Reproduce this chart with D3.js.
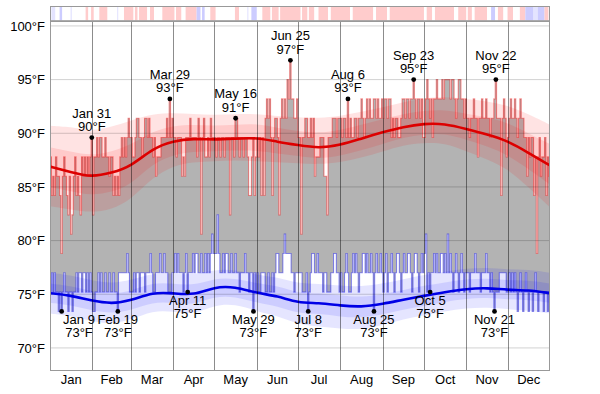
<!DOCTYPE html>
<html><head><meta charset="utf-8">
<script src="https://cdn.jsdelivr.net/npm/d3@7/dist/d3.min.js"></script>
<style>body{margin:0;background:#fff}svg{display:block}text{font-family:"Liberation Sans",Arial,Helvetica,sans-serif}</style>
</head><body><svg id="c" width="600" height="394"></svg>
<script>
const months = ["Jan","Feb","Mar","Apr","May","Jun","Jul","Aug","Sep","Oct","Nov","Dec"];
const monthDays = [31,28,31,30,31,30,31,31,30,31,30,31];
const yTicks = [70,75,80,85,90,95,100];

// daily high, °C
const highC = [
31,29,30,29,31,30,30,29,26,30,31,30,29,28,30,27,28,30,31,29,30,29,28,31,30,31,30,31,30,31,32,
28,31,31,32,31,32,32,31,31,32,31,31,30,31,31,29,30,29,30,29,31,32,31,32,31,32,33,32,
32,31,31,32,33,33,32,32,31,32,33,33,32,33,32,32,31,32,30,31,31,31,32,32,32,32,33,32,34,32,33,
32,32,31,32,32,32,30,31,30,32,32,32,33,32,32,32,32,31,33,32,27,32,33,31,31,32,31,33,32,32,
32,31,32,32,31,32,32,31,32,32,32,28,32,32,31,33,33,32,31,32,32,31,32,32,31,29,29,31,32,29,31,
32,31,32,29,32,29,33,34,33,34,32,29,32,33,33,32,28,33,34,33,34,33,35,34,36,34,34,33,33,34,
32,32,27,32,32,33,33,32,32,33,32,33,30,31,31,31,32,32,32,30,30,28,32,32,32,33,33,33,32,33,33,
33,32,33,33,32,34,32,33,32,32,33,33,32,33,33,34,33,32,33,34,33,34,33,33,34,34,33,34,33,33,34,
33,34,34,33,34,34,32,33,32,33,33,32,32,33,34,34,33,34,34,33,34,34,35,34,33,34,34,33,34,32,
32,34,35,34,33,34,32,34,34,35,34,34,34,35,34,35,35,35,35,34,35,35,34,33,34,35,35,34,34,33,34,
33,33,32,33,33,34,33,33,31,33,33,34,33,33,34,33,33,32,33,33,34,35,33,33,33,29,33,34,33,31,
32,33,34,33,33,34,33,32,33,34,33,33,32,32,30,32,31,32,32,29,31,26,31,32,30,31,31,32,29,31,30];

// daily low, °C
const lowC = [
24,25,24,25,24,24,23,24,23,24,25,24,24,23,24,24,23,24,24,25,24,25,25,24,25,25,24,25,24,25,24,
23,23,24,24,25,24,25,24,24,25,24,24,25,24,24,25,24,24,23,25,25,25,25,25,25,26,25,24,
24,24,25,24,25,25,24,25,25,25,24,25,25,25,26,25,24,24,25,25,25,26,25,25,26,25,25,24,24,24,25,
25,26,25,26,25,25,25,24,25,26,24,25,25,25,26,25,26,26,25,25,26,25,25,26,25,26,25,26,27,26,
26,26,28,26,25,25,26,25,26,26,25,25,26,25,25,26,25,25,24,25,25,25,26,25,25,24,25,25,23,25,24,
25,24,24,25,25,25,24,24,25,24,24,25,24,25,26,26,25,25,25,26,27,26,26,26,26,25,25,24,25,25,
25,25,25,24,24,24,25,23,24,25,26,26,25,25,26,25,25,25,24,25,25,24,24,24,25,25,26,26,25,25,24,
25,24,24,25,26,25,24,24,25,26,25,26,25,24,25,25,26,26,25,26,25,25,26,25,23,25,26,25,25,26,25,
24,25,26,24,25,25,26,25,24,25,26,26,25,24,25,26,25,25,26,26,25,24,25,26,26,25,24,25,26,25,
26,27,24,25,24,25,25,26,25,26,25,25,26,26,25,26,25,27,25,26,25,24,25,26,25,24,25,26,25,24,25,
25,25,24,25,25,25,26,25,25,25,24,25,25,25,26,25,25,24,25,24,23,24,24,24,25,25,25,25,25,24,
24,25,24,25,24,25,24,23,24,25,24,23,24,25,24,23,24,24,23,24,25,24,23,24,24,24,23,24,24,23,24];

// climatology samples (°F)
const normDays = [0,15,30,45,59,75,90,105,120,135,151,166,181,196,212,227,243,258,273,288,304,319,334,349,365];
const highAvg = [86.9,86.4,85.9,86.3,86.9,88.6,89.3,89.5,89.4,89.5,89.6,89.2,88.9,88.6,88.9,89.5,90.1,90.6,90.9,90.9,90.4,89.9,89.3,88.2,87.0];
const highP90 = [90.7,90.6,90.2,90.6,91.2,91.8,91.9,91.8,91.7,91.8,91.8,91.6,91.5,91.4,91.6,92.0,92.4,92.9,93.3,93.4,93.2,93.0,92.6,91.8,90.8];
const highP75 = [88.7,88.3,87.9,88.3,88.9,90.2,90.7,90.8,90.7,90.8,90.9,90.5,90.2,90.0,90.3,90.8,91.3,91.8,92.1,92.2,91.8,91.5,91.0,90.0,89.0];
const highP25 = [85.0,84.6,84.2,84.5,85.2,87.2,88.0,88.3,88.3,88.4,88.4,88.1,87.9,87.6,87.9,88.4,89.0,89.6,89.9,90.0,89.4,88.8,88.0,86.7,85.2];
const highP10 = [83.2,82.9,82.6,82.9,83.8,85.9,87.0,87.3,87.4,87.5,87.4,87.3,87.2,87.1,87.3,87.7,88.3,88.9,89.1,89.1,88.3,87.6,86.7,85.0,83.1];
const lowAvg = [75.1,74.9,74.4,74.1,74.4,75.2,75.1,74.9,75.7,75.7,75.1,74.85,74.2,74.2,73.95,73.8,74.1,74.5,74.85,75.2,75.5,75.6,75.4,75.4,75.1];
const lowP90 = [77.0,76.8,76.3,76.0,76.3,77.0,76.9,76.8,77.3,77.3,76.8,76.6,76.0,76.0,75.8,75.7,76.0,76.4,76.8,77.1,77.4,77.5,77.3,77.3,77.0];
const lowP75 = [76.0,75.8,75.3,75.0,75.3,76.1,76.0,75.8,76.5,76.5,76.0,75.8,75.1,75.1,74.9,74.7,75.0,75.4,75.8,76.1,76.4,76.5,76.3,76.3,76.0];
const lowP25 = [74.2,74.0,73.5,73.2,73.5,74.3,74.2,74.0,74.8,74.8,74.2,73.9,73.2,73.2,72.9,72.8,73.1,73.6,73.9,74.3,74.6,74.7,74.5,74.5,74.2];
const lowP10 = [73.2,73.0,72.5,72.2,72.6,73.5,73.4,73.1,74.0,74.1,73.4,73.0,72.2,72.0,71.8,71.7,72.1,72.7,73.0,73.4,73.7,73.8,73.6,73.5,73.2];

// top strip: [firstDay, lastDay, class]
const stripRuns = [[0,0,"w"],[1,3,"lb"],[4,6,"w"],[7,8,"b"],[9,14,"w"],[15,15,"lb"],[16,25,"w"],[26,27,"r"],[28,29,"w"],[30,31,"r"],[32,35,"w"],[36,41,"r"],[42,48,"w"],[49,49,"lb"],[50,53,"w"],[54,60,"r"],[61,61,"w"],[62,63,"r"],[64,64,"w"],[65,70,"r"],[71,72,"w"],[73,75,"r"],[76,81,"w"],[82,90,"r"],[91,91,"w"],[92,95,"r"],[96,98,"w"],[99,106,"r"],[107,109,"b"],[110,110,"w"],[111,112,"b"],[113,116,"w"],[117,120,"r"],[121,134,"w"],[135,137,"r"],[138,143,"w"],[144,144,"lb"],[145,146,"w"],[147,150,"b"],[151,154,"w"],[155,160,"r"],[161,161,"w"],[162,166,"r"],[167,167,"w"],[168,182,"r"],[183,183,"w"],[184,187,"r"],[188,188,"w"],[189,192,"r"],[193,195,"w"],[196,202,"r"],[203,204,"w"],[205,218,"r"],[219,220,"w"],[221,235,"r"],[236,237,"w"],[238,245,"r"],[246,247,"w"],[248,272,"r"],[273,274,"w"],[275,278,"r"],[279,280,"w"],[281,294,"r"],[295,297,"w"],[298,303,"r"],[304,304,"w"],[305,307,"r"],[308,309,"w"],[310,318,"r"],[319,321,"w"],[322,324,"b"],[325,326,"w"],[327,330,"r"],[331,333,"w"],[334,337,"r"],[338,342,"w"],[343,346,"r"],[347,352,"b"],[353,355,"lb"],[356,360,"b"],[361,363,"r"],[364,364,"w"]];
const stripColors = {w:"#ffffff", r:"#ffcccc", lb:"#e4e4ff", b:"#ccccff"};

// annotated extremes: day index
const highMarks = [30,87,135,175,217,265,325];
const lowMarks = [8,49,100,148,188,236,277,324];

const svg = d3.select("#c");
const L = 50, R = 550, T = 21, B = 371;
const x = d3.scaleLinear().domain([0,365]).range([L,R]);
const y = d3.scaleLinear().domain([67.85,100.46]).range([B,T]);
const c2f = c => c*9/5+32;

const days = d3.range(366);
const hi = d => c2f(highC[Math.min(d,364)]);
const lo = d => c2f(lowC[Math.min(d,364)]);

const plot = svg.append("g");
plot.append("clipPath").attr("id","clip").append("rect").attr("x",L).attr("y",T).attr("width",R-L).attr("height",B-T);
const g = plot.append("g").attr("clip-path","url(#clip)");

// observed range
g.append("path").datum(days)
  .attr("d", d3.area().curve(d3.curveStepAfter).x(d=>x(d)).y0(d=>y(lo(d))).y1(d=>y(hi(d))))
  .attr("fill","#b3b3b3");

// percentile bands
function band(lowArr, highArr, color){
  g.append("path").datum(normDays.map((d,i)=>({d, a:lowArr[i], b:highArr[i]})))
   .attr("d", d3.area().curve(d3.curveBasis).x(p=>x(p.d)).y0(p=>y(p.a)).y1(p=>y(p.b)))
   .attr("fill", color);
}
band(highP10, highP90, "rgba(255,0,0,0.11)");
band(highP25, highP75, "rgba(255,0,0,0.11)");
band(lowP10, lowP90, "rgba(0,0,255,0.10)");
band(lowP25, lowP75, "rgba(0,0,255,0.10)");

// daily step lines
g.append("path").datum(days)
  .attr("d", d3.line().curve(d3.curveStepAfter).x(d=>x(d)).y(d=>y(hi(d))))
  .attr("fill","none").attr("stroke","rgba(240,0,0,0.42)").attr("stroke-width",1.1);
g.append("path").datum(days)
  .attr("d", d3.line().curve(d3.curveStepAfter).x(d=>x(d)).y(d=>y(lo(d))))
  .attr("fill","none").attr("stroke","rgba(0,0,240,0.42)").attr("stroke-width",1.1);

// grid
g.selectAll(".hg").data(yTicks).join("line")
  .attr("x1",L).attr("x2",R).attr("y1",d=>y(d)).attr("y2",d=>y(d))
  .attr("stroke","rgba(0,0,0,0.18)").attr("stroke-width",1);
const bounds = d3.cumsum(monthDays);
svg.selectAll(".vg").data(bounds.slice(0,11)).join("line")
  .attr("x1",d=>Math.round(x(d))+0.5).attr("x2",d=>Math.round(x(d))+0.5).attr("y1",T).attr("y2",B)
  .attr("stroke","rgba(0,0,0,0.45)").attr("stroke-width",1);

// average lines
function avgLine(arr, color){
  g.append("path").datum(normDays.map((d,i)=>({d, v:arr[i]})))
   .attr("d", d3.line().curve(d3.curveBasis).x(p=>x(p.d)).y(p=>y(p.v)))
   .attr("fill","none").attr("stroke",color).attr("stroke-width",2.6);
}
avgLine(highAvg, "#dd0000");
avgLine(lowAvg, "#0000e6");

// strip
svg.selectAll(".st").data(stripRuns).join("rect")
  .attr("x",r=>x(r[0])).attr("width",r=>x(r[1]+1)-x(r[0]))
  .attr("y",6).attr("height",14.5).attr("fill",r=>stripColors[r[2]]);

// frames
svg.append("rect").attr("x",L+0.5).attr("y",6.5).attr("width",R-L-1).attr("height",14.2)
  .attr("fill","none").attr("stroke","#999");
svg.append("rect").attr("x",L+0.5).attr("y",T+0.5).attr("width",R-L-1).attr("height",B-T-1)
  .attr("fill","none").attr("stroke","#999");

// annotations
const fmt = d3.timeFormat("%b %-d");
const dateOf = d => new Date(2011,0,1+d);
function mark(d, val, above){
  const cx = x(d+0.5), cy = y(val);
  svg.append("circle").attr("cx",cx).attr("cy",cy).attr("r",2.4).attr("fill","#000");
  const tx = Math.max(cx, L+29);
  const lines = [fmt(dateOf(d)), Math.round(val)+"°F"];
  const ys = above ? [cy-20, cy-6.5] : [cy+12.5, cy+26];
  lines.forEach((s,i)=> svg.append("text").attr("x",tx).attr("y",ys[i]).attr("text-anchor","middle")
     .attr("font-size",13).attr("fill","#000").text(s));
}
highMarks.forEach(d=>mark(d, c2f(highC[d]), true));
lowMarks.forEach(d=>mark(d, c2f(lowC[d]), false));

// axes labels
svg.selectAll(".yl").data(yTicks).join("text")
  .attr("x",45).attr("y",d=>y(d)).attr("dy","0.36em").attr("text-anchor","end")
  .attr("font-size",13).attr("fill","#000").text(d=>d+"°F");
const starts = [0, ...bounds.slice(0,11)];
svg.selectAll(".ml").data(months).join("text")
  .attr("x",(m,i)=>x(starts[i]+monthDays[i]/2)).attr("y",384).attr("text-anchor","middle")
  .attr("font-size",13).attr("fill","#000").text(m=>m);
</script></body></html>
